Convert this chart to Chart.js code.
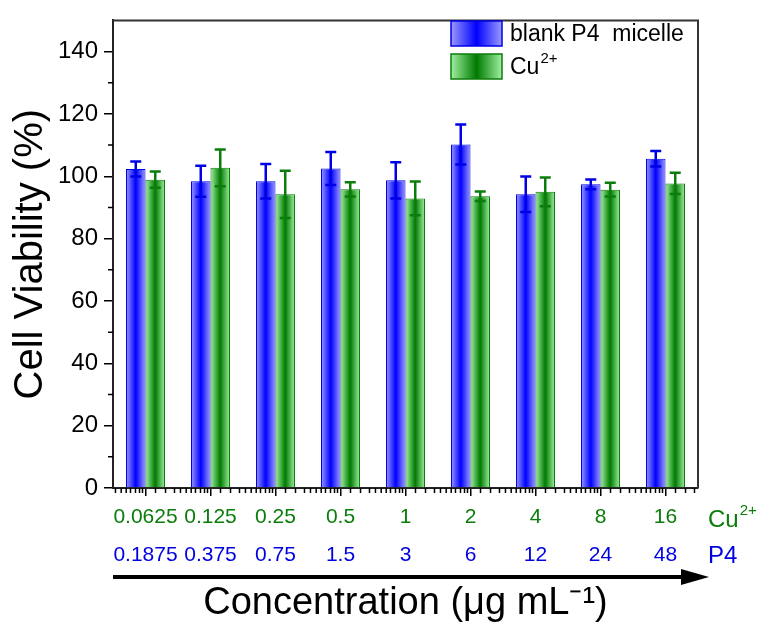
<!DOCTYPE html>
<html>
<head>
<meta charset="utf-8">
<script src="https://cdn.jsdelivr.net/npm/chart.js@4.4.1/dist/chart.umd.min.js"></script>
<style>
  html, body { margin: 0; padding: 0; background: #fff; }
  #wrap { width: 762px; height: 635px; }
</style>
</head>
<body>
<div id="wrap"><canvas id="viab" width="762" height="635"></canvas></div>
<script>
// concentrations (ug/mL)
var cuConc = ['0.0625', '0.125', '0.25', '0.5', '1', '2', '4', '8', '16'];
var p4Conc = ['0.1875', '0.375', '0.75', '1.5', '3', '6', '12', '24', '48'];

// cell viability (%) and SD
var blankMean = [102.3, 98.4, 98.4, 102.5, 98.7, 110.2, 94.2, 97.4, 105.6];
var blankErr  = [2.4, 5.0, 5.5, 5.3, 5.8, 6.4, 5.7, 1.6, 2.5];
var cuMean    = [98.9, 102.7, 94.2, 95.8, 92.9, 93.6, 95.0, 95.7, 97.7];
var cuErr     = [2.6, 5.9, 7.6, 2.3, 5.4, 1.5, 4.6, 2.2, 3.4];

var seriesNames = ['blank P4  micelle', 'Cu'];
var yTicks = [0, 20, 40, 60, 80, 100, 120, 140];

var BLUE = '#0000ff', BLUE_LT = '#9a9aff', BLUE_LINE = '#0000e6';
var GREEN = '#007a00', GREEN_LT = '#a0f0a0', GREEN_LINE = '#0a7d0a';
var CAT_PCT = 0.6;
// minor tick spacing between the major ticks (fraction of a category)
var MINOR_FRAC = [0.154, 0.308, 0.446, 0.538, 0.626, 0.703, 0.769, 0.846, 0.908, 0.954];

function makeGrad(ctx, x0, x1, light, dark) {
  var g = ctx.createLinearGradient(x0, 0, x1, 0);
  g.addColorStop(0, light);
  g.addColorStop(0.5, dark);
  g.addColorStop(1, light);
  return g;
}

function barFill(light, dark, side) {
  return function(c) {
    var chart = c.chart, xs = chart.scales.x;
    if (!xs || c.type !== 'data' || !xs.width) return dark;
    var mid = xs.getPixelForValue(c.dataIndex);
    var w = xs.width / cuConc.length * CAT_PCT / 2;
    var x0 = side === 0 ? mid - w : mid;
    return makeGrad(chart.ctx, x0, x0 + w, light, dark);
  };
}

var extras = {
  id: 'extras',
  afterDatasetsDraw: function(chart) {
    var ctx = chart.ctx, ys = chart.scales.y;
    var errs = [blankErr, cuErr];
    var cols = [BLUE_LINE, GREEN_LINE];
    ctx.save();
    for (var d = 0; d < 2; d++) {
      var meta = chart.getDatasetMeta(d);
      var vals = chart.data.datasets[d].data;
      ctx.strokeStyle = cols[d];
      ctx.lineWidth = 2.5;
      meta.data.forEach(function(bar, i) {
        var yt = ys.getPixelForValue(vals[i] + errs[d][i]);
        var yb = ys.getPixelForValue(vals[i] - errs[d][i]);
        ctx.beginPath();
        ctx.moveTo(bar.x, yt); ctx.lineTo(bar.x, yb);
        ctx.moveTo(bar.x - 5.5, yt); ctx.lineTo(bar.x + 5.5, yt);
        ctx.moveTo(bar.x - 5.5, yb); ctx.lineTo(bar.x + 5.5, yb);
        ctx.stroke();
      });
    }
    ctx.restore();
  },
  afterDraw: function(chart) {
    var ctx = chart.ctx, a = chart.chartArea;
    var xs = chart.scales.x, ys = chart.scales.y;
    ctx.save();
    // frame top + right
    ctx.strokeStyle = '#333';
    ctx.lineWidth = 2;
    ctx.beginPath();
    ctx.moveTo(a.left, a.top); ctx.lineTo(a.right, a.top); ctx.lineTo(a.right, a.bottom);
    ctx.stroke();

    // minor ticks
    ctx.strokeStyle = '#000';
    ctx.lineWidth = 1.5;
    ctx.beginPath();
    var step = xs.width / cuConc.length;
    for (var i = -1; i < cuConc.length; i++) {
      var base = xs.getPixelForValue(i < 0 ? 0 : i) - (i < 0 ? step : 0);
      MINOR_FRAC.forEach(function(f) {
        var x = base + f * step;
        if (x > a.left + 1 && x < a.right - 1) {
          ctx.moveTo(x, a.bottom); ctx.lineTo(x, a.bottom + 5);
        }
      });
    }
    for (var v = 10; v < 150; v += 20) {
      var y = ys.getPixelForValue(v);
      ctx.moveTo(a.left - 5, y); ctx.lineTo(a.left, y);
    }
    ctx.stroke();

    // row names on the right
    ctx.textBaseline = 'middle';
    ctx.textAlign = 'left';
    ctx.fillStyle = GREEN_LINE;
    ctx.font = '24px Arial, "Liberation Sans"';
    ctx.fillText('Cu', 708, 520);
    var cw = ctx.measureText('Cu').width;
    ctx.font = '15px Arial, "Liberation Sans"';
    ctx.fillText('2+', 708 + cw + 1, 511);
    ctx.fillStyle = '#0000e0';
    ctx.font = '24px Arial, "Liberation Sans"';
    ctx.fillText('P4', 708, 556);

    // arrow
    ctx.fillStyle = '#000';
    ctx.fillRect(a.left, 575, 683 - a.left, 4);
    ctx.beginPath();
    ctx.moveTo(681, 569); ctx.lineTo(709, 577); ctx.lineTo(681, 585);
    ctx.closePath();
    ctx.fill();

    // legend
    var lx = 451, lys = [21, 54], lw = 51, lh = 25;
    var fills = [[BLUE_LT, BLUE, BLUE_LINE], [GREEN_LT, GREEN, GREEN_LINE]];
    for (var k = 0; k < 2; k++) {
      ctx.fillStyle = makeGrad(ctx, lx, lx + lw, fills[k][0], fills[k][1]);
      ctx.fillRect(lx, lys[k], lw, lh);
      ctx.strokeStyle = fills[k][2];
      ctx.lineWidth = 1.5;
      ctx.strokeRect(lx, lys[k], lw, lh);
      ctx.fillStyle = '#000';
      ctx.font = '23px Arial, "Liberation Sans"';
      ctx.fillText(seriesNames[k], 510, lys[k] + lh / 2 + 1);
      if (k === 1) {
        var sw = ctx.measureText(seriesNames[k]).width;
        ctx.font = '15px Arial, "Liberation Sans"';
        ctx.fillText('2+', 510 + sw + 1, lys[k] + 5);
      }
    }
    ctx.restore();
  }
};

var ctx = document.getElementById('viab');
var chart = new Chart(ctx, {
  type: 'bar',
  data: {
    labels: cuConc,
    datasets: [
      {
        label: seriesNames[0],
        data: blankMean,
        backgroundColor: barFill(BLUE_LT, BLUE, 0),
        borderColor: BLUE_LINE,
        borderWidth: 1,
        categoryPercentage: CAT_PCT,
        barPercentage: 1
      },
      {
        label: 'Cu2+',
        data: cuMean,
        backgroundColor: barFill(GREEN_LT, GREEN, 1),
        borderColor: GREEN_LINE,
        borderWidth: 1,
        categoryPercentage: CAT_PCT,
        barPercentage: 1
      }
    ]
  },
  options: {
    responsive: false,
    animation: false,
    layout: { padding: { left: 0, top: 13, right: 64, bottom: 0 } },
    plugins: { legend: { display: false }, tooltip: { enabled: false } },
    scales: {
      y: {
        min: 0, max: 150,
        afterFit: function(s) { s.width = 113; },
        afterBuildTicks: function(s) { s.ticks = yTicks.map(function(v) { return { value: v }; }); },
        ticks: { font: { family: 'Arial, "Liberation Sans"', size: 24 }, color: '#000', padding: 6 },
        grid: { drawOnChartArea: false, color: '#000', lineWidth: 1.5, tickLength: 9 },
        border: { color: '#222', width: 2 },
        title: {
          display: true, text: 'Cell Viability (%)',
          font: { family: 'Arial, "Liberation Sans"', size: 40 }, color: '#000',
          padding: { top: 7, bottom: 0 }
        }
      },
      x: {
        afterFit: function(s) { s.height = 48; },
        ticks: { font: { family: 'Arial, "Liberation Sans"', size: 21 }, color: GREEN_LINE, padding: 9, maxRotation: 0, autoSkip: false },
        grid: { drawOnChartArea: false, offset: false, color: '#000', lineWidth: 1.5, tickLength: 8 },
        border: { color: '#222', width: 2 }
      },
      x2: {
        type: 'category',
        position: 'bottom',
        labels: p4Conc,
        afterFit: function(s) { s.height = 99; },
        ticks: { font: { family: 'Arial, "Liberation Sans"', size: 21 }, color: '#0000e0', padding: 7, maxRotation: 0, autoSkip: false },
        grid: { display: false, drawTicks: false },
        border: { display: false },
        title: {
          display: true, text: 'Concentration (\u03bcg mL\u207b\u00b9)',
          font: { family: 'Arial, "Liberation Sans"', size: 38 }, color: '#000',
          padding: { top: 0, bottom: 9 }
        }
      }
    }
  },
  plugins: [extras]
});
</script>
</body>
</html>
